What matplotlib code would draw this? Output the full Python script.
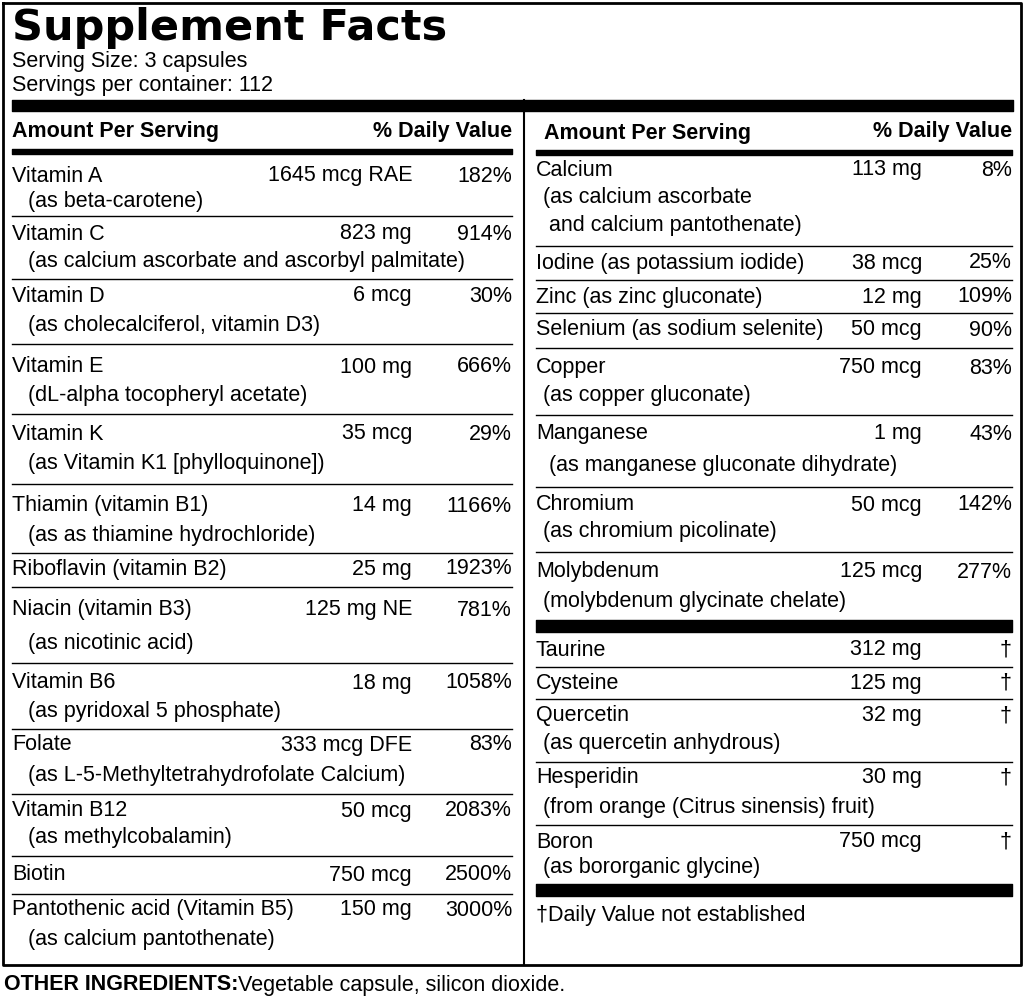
import matplotlib.pyplot as plt
from matplotlib import font_manager

names = [f.name for f in font_manager.fontManager.ttflist]
body_font = 'Liberation Sans Narrow' if 'Liberation Sans Narrow' in names else 'Liberation Sans'

# left column data
left_names = ['Vitamin A', 'Vitamin C', 'Vitamin D', 'Vitamin E', 'Vitamin K',
              'Thiamin (vitamin B1)', 'Riboflavin (vitamin B2)', 'Niacin (vitamin B3)',
              'Vitamin B6', 'Folate', 'Vitamin B12', 'Biotin', 'Pantothenic acid (Vitamin B5)']
left_subs = ['(as beta-carotene)', '(as calcium ascorbate and ascorbyl palmitate)',
             '(as cholecalciferol, vitamin D3)', '(dL-alpha tocopheryl acetate)',
             '(as Vitamin K1 [phylloquinone])', '(as as thiamine hydrochloride)', '',
             '(as nicotinic acid)', '(as pyridoxal 5 phosphate)',
             '(as L-5-Methyltetrahydrofolate Calcium)', '(as methylcobalamin)', '',
             '(as calcium pantothenate)']
left_amounts = ['1645 mcg RAE', '823 mg', '6 mcg', '100 mg', '35 mcg', '14 mg', '25 mg',
                '125 mg NE', '18 mg', '333 mcg DFE', '50 mcg', '750 mcg', '150 mg']
left_dv = ['182%', '914%', '30%', '666%', '29%', '1166%', '1923%', '781%', '1058%',
           '83%', '2083%', '2500%', '3000%']
left_y = [(176, 201), (234, 262), (296, 326), (367, 396), (434, 464), (506, 535),
          (569, None), (610, 644), (683, 712), (745, 776), (811, 838), (875, None),
          (910, 939)]
left_lines = [216, 279, 344, 414, 484, 553, 587, 663, 729, 794, 856, 894]

# right column data
right_names = ['Calcium', 'Iodine (as potassium iodide)', 'Zinc (as zinc gluconate)',
               'Selenium (as sodium selenite)', 'Copper', 'Manganese', 'Chromium',
               'Molybdenum', 'Taurine', 'Cysteine', 'Quercetin', 'Hesperidin', 'Boron']
right_subs = [['(as calcium ascorbate', ' and calcium pantothenate)'], [], [], [],
              ['(as copper gluconate)'], [' (as manganese gluconate dihydrate)'],
              ['(as chromium picolinate)'], ['(molybdenum glycinate chelate)'], [], [],
              ['(as quercetin anhydrous)'], ['(from orange (Citrus sinensis) fruit)'],
              ['(as bororganic glycine)']]
right_amounts = ['113 mg', '38 mcg', '12 mg', '50 mcg', '750 mcg', '1 mg', '50 mcg',
                 '125 mcg', '312 mg', '125 mg', '32 mg', '30 mg', '750 mcg']
right_dv = ['8%', '25%', '109%', '90%', '83%', '43%', '142%', '277%',
            '\u2020', '\u2020', '\u2020', '\u2020', '\u2020']
right_y = [[170, 198, 226], [263], [297], [330], [368, 396], [434, 466], [505, 531],
           [572, 602], [650], [683], [716, 744], [778, 807], [842, 868]]
right_lines = [246, 280, 313, 348, 415, 487, 552, 667, 699, 762, 825]

fig = plt.figure(figsize=(10.24, 10.01), dpi=100)
ax = fig.add_axes([0, 0, 1, 1])
ax.set_xlim(0, 1024)
ax.set_ylim(1001, 0)
ax.axis('off')

fs = 15.5
kw = dict(family=[body_font, 'DejaVu Sans'], fontsize=fs, va='center', color='black')

ax.text(12, 28, 'Supplement Facts', fontsize=31, fontweight='black',
        family='DejaVu Sans', va='center')
ax.text(12, 61, 'Serving Size: 3 capsules', **kw)
ax.text(12, 85, 'Servings per container: 112', **kw)

# frame
ax.plot([3, 1021, 1021, 3, 3], [3, 3, 965, 965, 3], color='black', lw=2)
ax.fill_between([12, 1013], 100, 111, color='black')
ax.plot([524, 524], [100, 965], color='black', lw=1.5)

# headers
ax.text(12, 132, 'Amount Per Serving', fontweight='bold', **kw)
ax.text(512, 132, '% Daily Value', fontweight='bold', ha='right', **{k: v for k, v in kw.items()})
ax.fill_between([12, 512], 149, 154, color='black')
ax.text(544, 134, 'Amount Per Serving', fontweight='bold', **kw)
ax.text(1012, 132, '% Daily Value', fontweight='bold', ha='right', **kw)
ax.fill_between([536, 1012], 150, 155, color='black')

for nm, sub, am, dv, (y1, y2) in zip(left_names, left_subs, left_amounts, left_dv, left_y):
    ax.text(12, y1, nm, **kw)
    ax.text(412, y1, am, ha='right', **kw)
    ax.text(512, y1, dv, ha='right', **kw)
    if sub:
        ax.text(28, y2, sub, **kw)
for y in left_lines:
    ax.plot([12, 512], [y, y], color='black', lw=1)

for nm, subs, am, dv, ys in zip(right_names, right_subs, right_amounts, right_dv, right_y):
    ax.text(536, ys[0], nm, **kw)
    ax.text(922, ys[0], am, ha='right', **kw)
    ax.text(1012, ys[0], dv, ha='right', **kw)
    for s, y in zip(subs, ys[1:]):
        ax.text(543, y, s, **kw)
for y in right_lines:
    ax.plot([536, 1012], [y, y], color='black', lw=1)
ax.fill_between([536, 1012], 620, 632, color='black')
ax.fill_between([536, 1012], 884, 896, color='black')
ax.text(536, 916, '\u2020Daily Value not established', **kw)

ax.text(4, 985, 'OTHER INGREDIENTS:', fontweight='bold', **kw)
ax.text(238, 985, 'Vegetable capsule, silicon dioxide.', **kw)

fig.savefig('out.png', dpi=100)
